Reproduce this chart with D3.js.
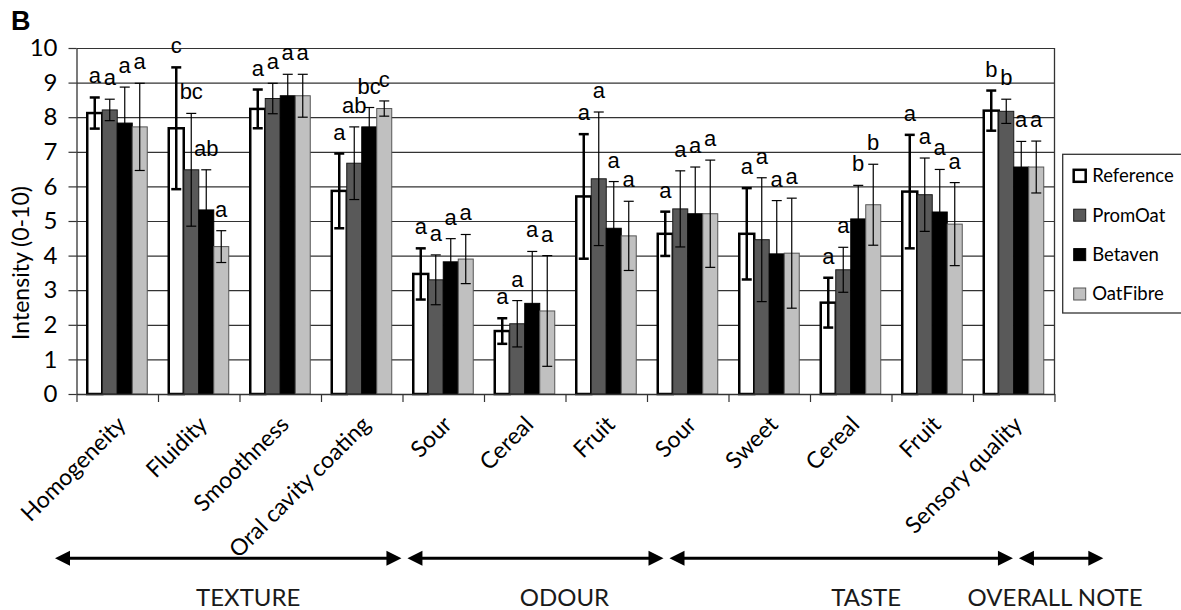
<!DOCTYPE html>
<html>
<head>
<meta charset="utf-8">
<script src="https://cdn.jsdelivr.net/npm/d3@7"></script>
<style>
  html, body { margin: 0; padding: 0; background: #fff; }
  svg { display: block; }
</style>
</head>
<body>
<svg id="chart" width="1181" height="610"></svg>
<script>
// Sensory attributes (x categories)
const categories = ["Homogeneity", "Fluidity", "Smoothness", "Oral cavity coating",
  "Sour", "Cereal", "Fruit", "Sour", "Sweet", "Cereal", "Fruit", "Sensory quality"];
const seriesNames = ["Reference", "PromOat", "Betaven", "OatFibre"];

// Mean intensity scores (0-10)
const referenceMean = [8.12, 7.68, 8.24, 5.87, 3.47, 1.82, 5.71, 4.63, 4.63, 2.64, 5.85, 8.19];
const promOatMean   = [8.21, 6.48, 8.54, 6.67, 3.30, 2.03, 6.22, 5.35, 4.46, 3.59, 5.76, 8.17];
const betavenMean   = [7.83, 5.32, 8.62, 7.72, 3.82, 2.62, 4.79, 5.21, 4.05, 5.06, 5.26, 6.56];
const oatFibreMean  = [7.72, 4.26, 8.62, 8.25, 3.90, 2.40, 4.57, 5.21, 4.07, 5.47, 4.91, 6.56];

// Standard deviations
const referenceSd = [0.45, 1.76, 0.56, 1.08, 0.74, 0.37, 1.80, 0.64, 1.32, 0.72, 1.64, 0.58];
const promOatSd   = [0.31, 1.63, 0.44, 1.05, 0.72, 0.67, 1.93, 1.10, 1.79, 0.65, 1.06, 0.35];
const betavenSd   = [1.04, 1.16, 0.62, 0.56, 0.67, 1.50, 1.35, 1.35, 1.54, 0.97, 1.23, 0.74];
const oatFibreSd  = [1.26, 0.46, 0.62, 0.22, 0.71, 1.60, 1.00, 1.55, 1.59, 1.17, 1.20, 0.75];

// Significance letters
const referenceSig = ["a", "c", "a", "a", "a", "a", "a", "a", "a", "a", "a", "b"];
const promOatSig   = ["a", "bc", "a", "ab", "a", "a", "a", "a", "a", "a", "a", "b"];
const betavenSig   = ["a", "ab", "a", "bc", "a", "a", "a", "a", "a", "b", "a", "a"];
const oatFibreSig  = ["a", "a", "a", "c", "a", "a", "a", "a", "a", "b", "a", "a"];

// Y axis ticks
const yTicks = [0, 1, 2, 3, 4, 5, 6, 7, 8, 9, 10];

// Attribute groups and how many categories each spans
const groupNames = ["TEXTURE", "ODOUR", "TASTE", "OVERALL NOTE"];
const groupSizes = [4, 3, 4, 1];

// ---- build series table ----
const means = [referenceMean, promOatMean, betavenMean, oatFibreMean];
const sds = [referenceSd, promOatSd, betavenSd, oatFibreSd];
const sigs = [referenceSig, promOatSig, betavenSig, oatFibreSig];
const rows = [];
categories.forEach((c, i) => {
  seriesNames.forEach((s, k) => {
    rows.push({ cat: i, series: s, mean: means[k][i], sd: sds[k][i], sig: sigs[k][i] });
  });
});

// ---- styles ----
const style = {
  Reference: { fill: "#ffffff", stroke: "#000", sw: 2.5, ew: 2.5 },
  PromOat:   { fill: "#595959", stroke: "#1a1a1a", sw: 1, ew: 1.2 },
  Betaven:   { fill: "#000000", stroke: "#000", sw: 1, ew: 1.2 },
  OatFibre:  { fill: "#c0c0c0", stroke: "#555", sw: 1, ew: 1.2 }
};
const uiFont = "Lato, 'Open Sans', sans-serif";

const svg = d3.select("#chart");
const plot = { left: 76.5, right: 1054.5, top: 48, bottom: 394 };

const x = d3.scaleBand().domain(d3.range(categories.length)).range([plot.left, plot.right]);
const xs = d3.scaleBand().domain(seriesNames).range([0, x.bandwidth()]).paddingInner(0).paddingOuter(0.717);
const y = d3.scaleLinear().domain([0, 10]).range([plot.bottom, plot.top]);
const xEdges = d3.scaleLinear().domain([0, categories.length]).range([plot.left, plot.right]);

// panel letter
svg.append("text").attr("x", 11).attr("y", 30)
  .attr("font-family", "'Liberation Sans', Arial, sans-serif")
  .attr("font-weight", "bold").attr("font-size", 27).text("B");

// horizontal gridlines
const grid = svg.append("g").attr("transform", `translate(${plot.left},0)`)
  .call(d3.axisLeft(y).tickValues(yTicks.slice(1)).tickSize(-(plot.right - plot.left)).tickFormat(""));
grid.select(".domain").remove();
grid.selectAll("line").attr("stroke", "#333").attr("stroke-width", 1.2);

// bars
const barG = svg.append("g");
barG.selectAll("rect").data(rows).join("rect")
  .attr("x", d => x(d.cat) + xs(d.series))
  .attr("width", xs.bandwidth())
  .attr("y", d => y(d.mean))
  .attr("height", d => y(0) - y(d.mean))
  .attr("fill", d => style[d.series].fill)
  .attr("stroke", d => style[d.series].stroke)
  .attr("stroke-width", d => style[d.series].sw);

// error bars (mean ± SD with caps)
const capHalf = 5;
const errG = svg.append("g");
rows.forEach(d => {
  const cx = x(d.cat) + xs(d.series) + xs.bandwidth() / 2;
  const st = style[d.series];
  const g = errG.append("g").attr("stroke", "#000").attr("stroke-width", st.ew);
  g.append("line").attr("x1", cx).attr("x2", cx).attr("y1", y(d.mean - d.sd)).attr("y2", y(d.mean + d.sd));
  g.append("line").attr("x1", cx - capHalf).attr("x2", cx + capHalf).attr("y1", y(d.mean + d.sd)).attr("y2", y(d.mean + d.sd));
  g.append("line").attr("x1", cx - capHalf).attr("x2", cx + capHalf).attr("y1", y(d.mean - d.sd)).attr("y2", y(d.mean - d.sd));
});

// significance letters above each error bar
svg.append("g").selectAll("text").data(rows).join("text")
  .attr("x", d => x(d.cat) + xs(d.series) + xs.bandwidth() / 2)
  .attr("y", d => y(d.mean + d.sd) - 14)
  .attr("text-anchor", "middle")
  .attr("font-family", "'Liberation Sans', Arial, sans-serif")
  .attr("font-size", 22)
  .attr("fill", "#000")
  .text(d => d.sig);

// y axis
const yAxis = svg.append("g").attr("transform", `translate(${plot.left},0)`)
  .call(d3.axisLeft(y).tickValues(yTicks).tickSize(8).tickSizeOuter(0).tickPadding(11));
yAxis.select(".domain").attr("stroke", "#333").attr("stroke-width", 1.3);
yAxis.selectAll("line").attr("stroke", "#333").attr("stroke-width", 1.2);
yAxis.selectAll("text").attr("font-family", uiFont).attr("font-size", 24).attr("fill", "#000");

// x axis (category boundary ticks)
const xAxis = svg.append("g").attr("transform", `translate(0,${plot.bottom})`)
  .call(d3.axisBottom(xEdges).ticks(categories.length).tickSize(8).tickSizeOuter(0).tickFormat(""));
xAxis.select(".domain").attr("stroke", "#333").attr("stroke-width", 1.3);
xAxis.selectAll("line").attr("stroke", "#333").attr("stroke-width", 1.2);

// right border of plot area
svg.append("line").attr("x1", plot.right).attr("x2", plot.right)
  .attr("y1", plot.top).attr("y2", plot.bottom)
  .attr("stroke", "#333").attr("stroke-width", 1.3);

// category labels, rotated
svg.append("g").selectAll("text").data(categories).join("text")
  .attr("transform", (d, i) => `translate(${x(i) + x.bandwidth() / 2 + 10},426) rotate(-45)`)
  .attr("text-anchor", "end")
  .attr("font-family", uiFont).attr("font-size", 23).attr("fill", "#000")
  .text(d => d);

// y axis title
svg.append("text")
  .attr("transform", "translate(29,263) rotate(-90)")
  .attr("text-anchor", "middle")
  .attr("font-family", uiFont).attr("font-size", 23).attr("fill", "#000")
  .text("Intensity (0-10)");

// legend
const lg = svg.append("g").attr("transform", "translate(1062.7,154.3)");
lg.append("rect").attr("width", 140).attr("height", 158.7)
  .attr("fill", "#fff").attr("stroke", "#333").attr("stroke-width", 1.3);
seriesNames.forEach((s, k) => {
  const cy = 21.5 + k * 39.4;
  const st = style[s];
  lg.append("rect").attr("x", 11).attr("y", cy - 6).attr("width", 12).attr("height", 12)
    .attr("fill", st.fill).attr("stroke", st.stroke).attr("stroke-width", s === "Reference" ? 2.5 : 1);
  lg.append("text").attr("x", 29.5).attr("y", cy).attr("dy", "0.35em")
    .attr("font-family", uiFont).attr("font-size", 18.5).attr("fill", "#000")
    .text(s);
});

// attribute group arrows and names
const ax = d3.scaleLinear().domain([0, categories.length]).range([55, 1103.3]);
const arrowY = 558.3, headLen = 15, headHalf = 7.5;
const labelNudge = [20, 29, 25, -6];
let start = 0;
groupNames.forEach((name, g) => {
  const end = start + groupSizes[g];
  const x1 = ax(start) + (start === 0 ? 0 : 3);
  const x2 = ax(end) - (end === categories.length ? 0 : 3);
  const ag = svg.append("g");
  ag.append("line").attr("x1", x1 + headLen - 2).attr("x2", x2 - headLen + 2)
    .attr("y1", arrowY).attr("y2", arrowY).attr("stroke", "#000").attr("stroke-width", 3);
  ag.append("path").attr("fill", "#000")
    .attr("d", `M${x1},${arrowY} L${x1 + headLen},${arrowY - headHalf} L${x1 + headLen},${arrowY + headHalf} Z`);
  ag.append("path").attr("fill", "#000")
    .attr("d", `M${x2},${arrowY} L${x2 - headLen},${arrowY - headHalf} L${x2 - headLen},${arrowY + headHalf} Z`);
  svg.append("text").attr("x", (x1 + x2) / 2 + labelNudge[g]).attr("y", 606)
    .attr("text-anchor", "middle")
    .attr("font-family", uiFont).attr("font-size", 24).attr("fill", "#1a1a1a")
    .text(name);
  start = end;
});
</script>
</body>
</html>
